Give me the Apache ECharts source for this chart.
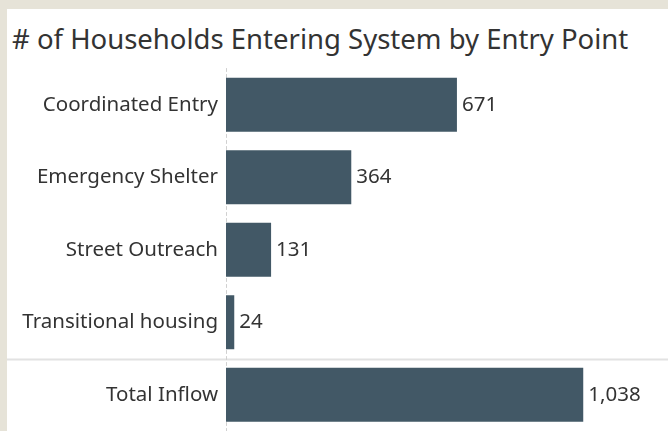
<!DOCTYPE html>
<html>
<head>
<meta charset="utf-8">
<script src="https://cdn.jsdelivr.net/npm/echarts@6/dist/echarts.min.js"></script>
<style>
  html, body { margin: 0; padding: 0; background: #e6e3d8; }
  #panel { position: absolute; left: 7px; top: 9px; width: 661px; height: 422px; background: #fff; }
  #title { position: absolute; left: 5px; top: 11px; font-family: "Noto Sans", sans-serif; font-size: 27.5px; color: #333; white-space: nowrap; }
  #main { position: absolute; left: 0; top: 0; width: 668px; height: 431px; }
</style>
</head>
<body>
<div id="panel"><div id="title"># of Households Entering System by Entry Point</div></div>
<div id="main"></div>
<script>
var categories = ['Coordinated Entry', 'Emergency Shelter', 'Street Outreach', 'Transitional housing', 'Total Inflow'];
var households = [671, 364, 131, 24, 1038];

var chart = echarts.init(document.getElementById('main'));
var option = {
    animation: false,
    grid: { left: 226, top: 68.5, width: 413, height: 365.5 },
    xAxis: { type: 'value', min: 0, max: 1200, show: false },
    yAxis: {
        type: 'category',
        inverse: true,
        data: categories,
        axisLine: { show: true, lineStyle: { color: '#d0d0d0', type: [3, 3] } },
        axisTick: { show: false },
        axisLabel: { color: '#333', fontSize: 20.5, fontFamily: 'Noto Sans', margin: 8, padding: [4, 0, 0, 0] }
    },
    series: [{
        type: 'bar',
        data: households,
        barWidth: 54,
        itemStyle: { color: '#425866' },
        label: {
            show: true,
            position: 'right',
            distance: 5,
            color: '#333',
            fontSize: 20.5,
            fontFamily: 'Noto Sans',
            padding: [4, 0, 0, 0],
            formatter: function (p) { return p.value.toLocaleString('en-US'); }
        }
    }]
};
chart.setOption(option);

// separator between the detail rows and the total row
var yA = chart.convertToPixel({ yAxisIndex: 0 }, categories[3]);
var yB = chart.convertToPixel({ yAxisIndex: 0 }, categories[4]);
var sepY = Math.round((yA + yB) / 2) + 0.5;
chart.setOption({
    graphic: [{
        type: 'line',
        shape: { x1: 7, y1: sepY, x2: 668, y2: sepY },
        style: { stroke: '#e2e2e2', lineWidth: 2 }
    }]
});
</script>
</body>
</html>
